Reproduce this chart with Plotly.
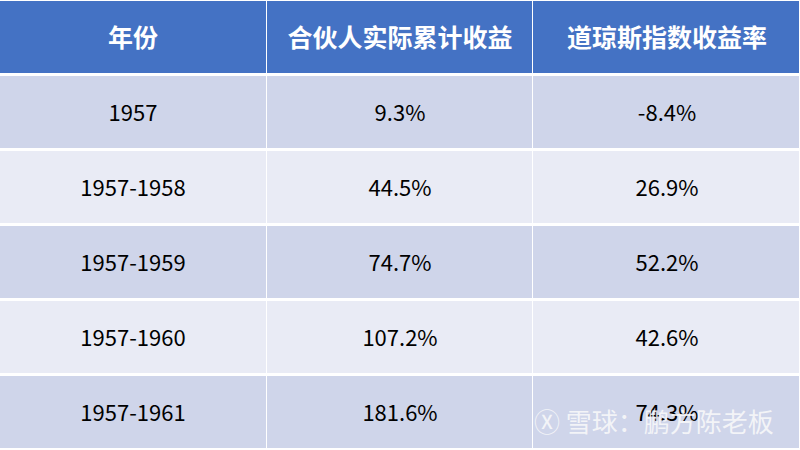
import plotly.graph_objects as go

# 数据
header = ['年份', '合伙人实际累计收益', '道琼斯指数收益率']
years = ['1957', '1957-1958', '1957-1959', '1957-1960', '1957-1961']
partner_cum = ['9.3%', '44.5%', '74.7%', '107.2%', '181.6%']
dow_ret = ['-8.4%', '26.9%', '52.2%', '42.6%', '74.3%']

cols = [0, 1, 2]
colorscale = [[0, '#CFD5EA'], [0.5, '#E9EBF5'], [1, '#4472C4']]

fig = go.Figure()

# 表头
fig.add_trace(go.Heatmap(
    x=cols, y=[0],
    z=[[2, 2, 2]],
    text=[[f'<b>{h}</b>' for h in header]],
    texttemplate='%{text}',
    textfont=dict(family='Noto Sans CJK SC', size=25, color='white'),
    colorscale=colorscale, zmin=0, zmax=2, showscale=False,
    xgap=1, ygap=3, hoverinfo='skip',
))

# 表体
body_text = [list(r) for r in zip(years, partner_cum, dow_ret)]
body_z = [[i % 2] * 3 for i in range(len(years))]
fig.add_trace(go.Heatmap(
    x=cols, y=list(range(1, len(years) + 1)),
    z=body_z,
    text=body_text,
    texttemplate='%{text}',
    textfont=dict(family='Noto Sans CJK SC', size=22, color='black'),
    colorscale=colorscale, zmin=0, zmax=2, showscale=False,
    xgap=1, ygap=3, hoverinfo='skip',
))

# 水印
fig.add_annotation(
    x=0.97, y=0.02, xref='paper', yref='paper',
    xanchor='right', yanchor='bottom',
    text='Ⓧ 雪球：鹏方陈老板', showarrow=False,
    font=dict(family='Noto Sans CJK SC', size=26, color='rgba(250,250,250,0.85)'),
)

fig.update_layout(
    width=800, height=450,
    margin=dict(l=0, r=0, t=0, b=0),
    paper_bgcolor='white', plot_bgcolor='white',
    xaxis=dict(visible=False, range=[-0.5, 2.5], fixedrange=True),
    yaxis=dict(visible=False, range=[5.5, -0.5], fixedrange=True),
    showlegend=False,
)

# 去掉页面默认边距和工具栏
fig.write_html('out.html', config={'displayModeBar': False},
               post_script="document.body.style.margin='0';")
